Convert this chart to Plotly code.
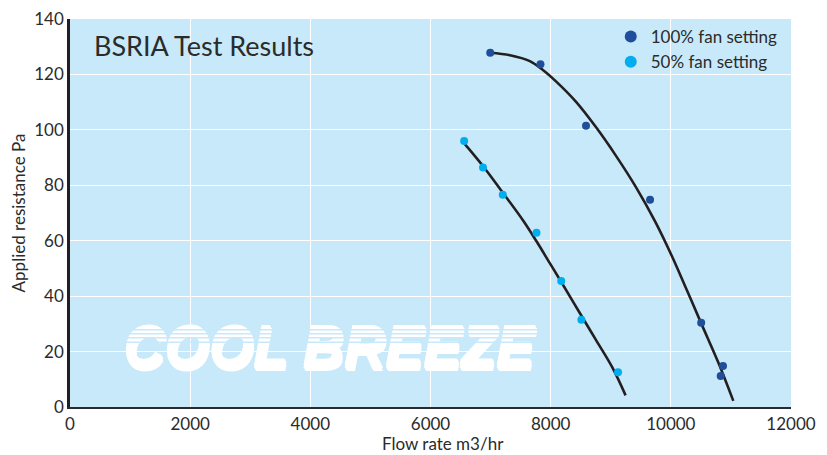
import plotly.graph_objects as go

# ---- data ----
flow_100 = [6994, 7830, 8588, 9654, 10505, 10868, 10830]
press_100 = [127.8, 123.7, 101.5, 74.8, 30.4, 14.8, 11.2]
flow_50 = [6560, 6874, 7203, 7764, 8176, 8511, 9121]
press_50 = [96.0, 86.4, 76.6, 62.9, 45.5, 31.5, 12.5]

curve100_x = [6994, 7324, 7653, 7870, 8093, 8423, 8753, 9082, 9412, 9742, 10017, 10264, 10511, 10785, 11040]
curve100_y = [127.8, 126.9, 124.8, 121.6, 117.4, 110.1, 101.0, 90.8, 79.6, 66.8, 54.5, 42.3, 29.9, 16.3, 2.2]
curve50_x = [6565, 6885, 7215, 7544, 7764, 7983, 8204, 8477, 8753, 9028, 9247]
curve50_y = [95.0, 86.6, 77.0, 67.2, 59.8, 52.0, 44.1, 34.2, 24.2, 14.2, 4.2]

series_names = ["100% fan setting", "50% fan setting"]
x_ticks = [0, 2000, 4000, 6000, 8000, 10000, 12000]
y_ticks = [0, 20, 40, 60, 80, 100, 120, 140]
watermark = "COOL BREEZE"
chart_title = "BSRIA Test Results"
x_title = "Flow rate m3/hr"
y_title = "Applied resistance Pa"

# ---- styles ----
BG = "#C7E9F9"
DARK = "#1F4E9A"
LIGHT = "#00AEEF"
INK = "#231F20"
TXT = "#2B2B2B"
FONT = "Lato"

fig = go.Figure()

# watermark text
fig.add_trace(go.Scatter(
    x=[4319], y=[19.3], mode="text", text=[watermark],
    textfont=dict(family="Liberation Sans", size=57, color="white", weight="bold", style="italic",
                  shadow=("1px 0px 0px white, -1px 0px 0px white, 0px 1px 0px white, 0px -1px 0px white, "
                          "0px 2px 0px white, 0px -2px 0px white, 1px 3px 0px white, -1px -3px 0px white")),
    hoverinfo="skip", showlegend=False))

# fitted curves
fig.add_trace(go.Scatter(x=curve100_x, y=curve100_y, mode="lines",
                         line=dict(color=INK, width=2.6, shape="spline", smoothing=1.0),
                         hoverinfo="skip", showlegend=False))
fig.add_trace(go.Scatter(x=curve50_x, y=curve50_y, mode="lines",
                         line=dict(color=INK, width=2.6, shape="spline", smoothing=1.0),
                         hoverinfo="skip", showlegend=False))

# measured points
fig.add_trace(go.Scatter(x=flow_100, y=press_100, mode="markers", marker=dict(color=DARK, size=8),
                         name=series_names[0], showlegend=False))
fig.add_trace(go.Scatter(x=flow_50, y=press_50, mode="markers", marker=dict(color=LIGHT, size=8),
                         name=series_names[1], showlegend=False))

# legend entries (larger symbols like the reference)
fig.add_trace(go.Scatter(x=[None], y=[None], mode="markers", marker=dict(color=DARK, size=12), name=series_names[0]))
fig.add_trace(go.Scatter(x=[None], y=[None], mode="markers", marker=dict(color=LIGHT, size=12), name=series_names[1]))

# stripes across the top of the watermark
shapes = []
for yy in [27.9, 26.4, 25.0, 23.4]:
    shapes.append(dict(type="line", xref="x", yref="y", x0=800, x1=7800, y0=yy, y1=yy,
                       line=dict(color=BG, width=1.5), layer="above"))

fig.update_layout(
    width=827, height=455,
    margin=dict(l=62, r=44, t=11, b=56),
    paper_bgcolor="white", plot_bgcolor=BG,
    font=dict(family=FONT, size=17, color=TXT),
    showlegend=True,
    legend=dict(x=0.750, y=1.0, xanchor="left", yanchor="top", bgcolor="rgba(0,0,0,0)",
                font=dict(family=FONT, size=17, color=TXT), itemsizing="trace", tracegroupgap=0),
    shapes=shapes,
    annotations=[
        dict(text=chart_title, xref="paper", yref="paper", x=0.03, y=0.932,
             xanchor="left", yanchor="middle", showarrow=False,
             font=dict(family=FONT, size=27, color=TXT)),
        dict(text=x_title, xref="paper", yref="paper", x=0.517, y=0, yshift=-36,
             xanchor="center", yanchor="middle", showarrow=False,
             font=dict(family=FONT, size=17, color=TXT)),
    ],
)

fig.update_xaxes(range=[0, 12000], tickvals=x_ticks, tickformat="d", showgrid=True, gridcolor="white", gridwidth=1,
                 zeroline=False, showline=True, linecolor="#2a2a2a", linewidth=2.2, ticks="", automargin=False,
                 ticklabeloverflow="allow")
fig.update_yaxes(range=[0, 140], tickvals=y_ticks, showgrid=True, gridcolor="white", gridwidth=1,
                 zeroline=False, showline=True, linecolor=INK, linewidth=2.6, ticks="", automargin=False,
                 ticklabeloverflow="allow",
                 title=dict(text=y_title, standoff=6, font=dict(size=17)))

fig.write_html("out.html")
